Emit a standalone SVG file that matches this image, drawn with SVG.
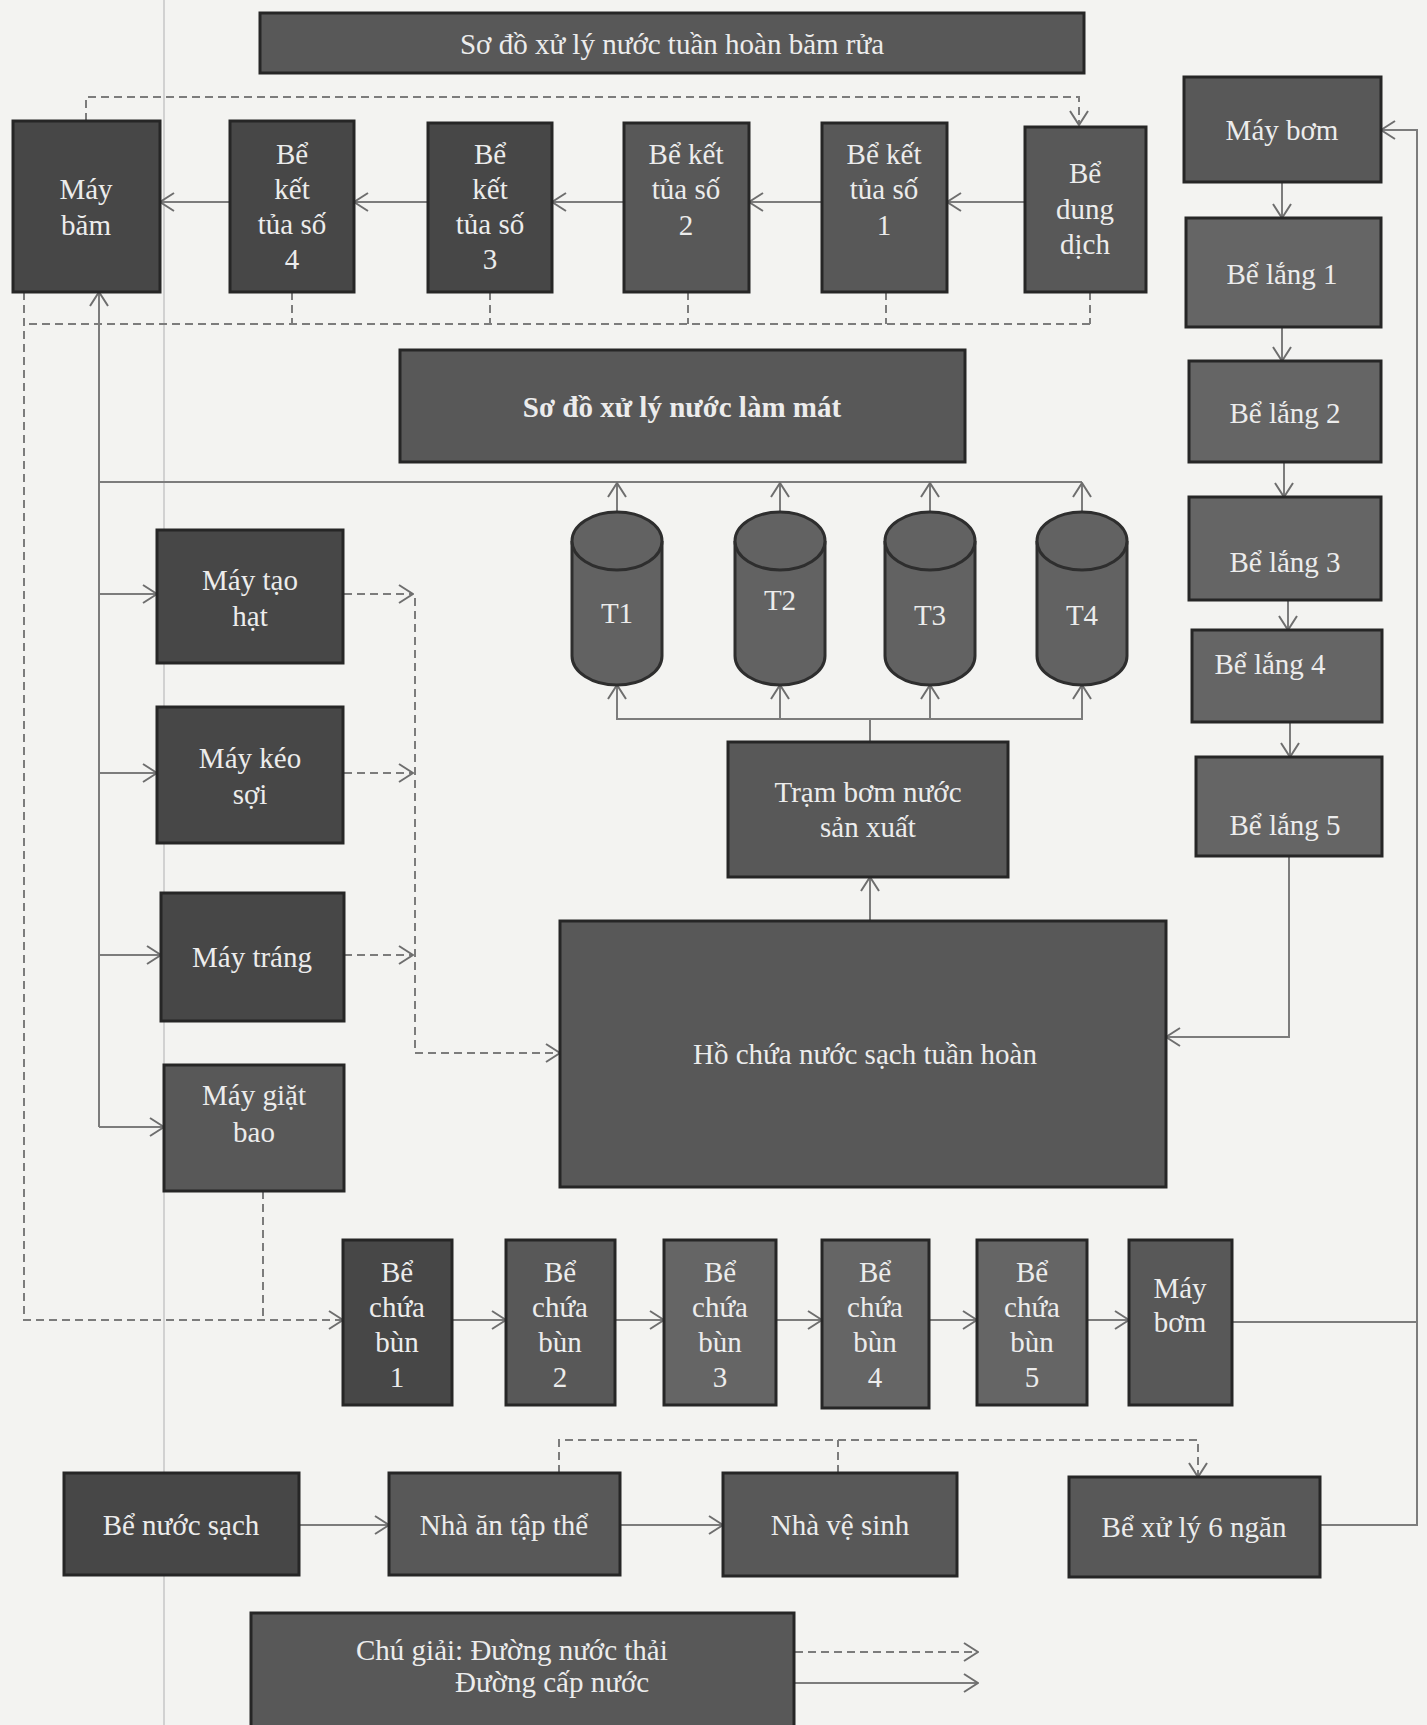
<svg xmlns="http://www.w3.org/2000/svg" width="1427" height="1725" viewBox="0 0 1427 1725">
<defs>
<style>
.bx{stroke:#262626;stroke-width:3}
.d{fill:#474747}
.m{fill:#585858}
.l{fill:#656565}
.t{font-family:"Liberation Serif","Times New Roman",serif;font-size:29px;fill:#ececec;text-anchor:middle;dominant-baseline:central}
.c{fill:none;stroke:#7c7c7c;stroke-width:2}
.dash{fill:none;stroke:#7c7c7c;stroke-width:2;stroke-dasharray:8 5}
.tank{fill:#626262;stroke:#2e2e2e;stroke-width:3}
</style>
<marker id="a" markerUnits="userSpaceOnUse" viewBox="0 0 16 20" markerWidth="16" markerHeight="20" refX="15" refY="10" orient="auto">
<path d="M1,1 L15,10 L1,19" fill="none" stroke="#6e6e6e" stroke-width="2"/>
</marker>
</defs>
<rect x="0" y="0" width="1427" height="1725" fill="#f3f3f1"/>
<line x1="164" y1="0" x2="164" y2="1725" stroke="#c6c6c6" stroke-width="1.5"/>

<g id="connectors">
<path class="c" d="M1025,202 H947" marker-end="url(#a)"/>
<path class="c" d="M822,202 H749" marker-end="url(#a)"/>
<path class="c" d="M624,202 H552" marker-end="url(#a)"/>
<path class="c" d="M428,202 H354" marker-end="url(#a)"/>
<path class="c" d="M230,202 H160" marker-end="url(#a)"/>
<path class="c" d="M1282,182 V218" marker-end="url(#a)"/>
<path class="c" d="M1282,327 V361" marker-end="url(#a)"/>
<path class="c" d="M1284,462 V497" marker-end="url(#a)"/>
<path class="c" d="M1288,600 V630" marker-end="url(#a)"/>
<path class="c" d="M1290,722 V757" marker-end="url(#a)"/>
<path class="c" d="M1289,856 V1037 H1166" marker-end="url(#a)"/>
<path class="c" d="M870,921 V877" marker-end="url(#a)"/>
<path class="c" d="M870,742 V719 H617 V685" marker-end="url(#a)"/>
<path class="c" d="M870,719 H1082 V685" marker-end="url(#a)"/>
<path class="c" d="M780,719 V685" marker-end="url(#a)"/>
<path class="c" d="M930,719 V685" marker-end="url(#a)"/>
<path class="c" d="M1082,482 H99"/>
<path class="c" d="M617,512 V483" marker-end="url(#a)"/>
<path class="c" d="M780,512 V483" marker-end="url(#a)"/>
<path class="c" d="M930,512 V483" marker-end="url(#a)"/>
<path class="c" d="M1082,512 V483" marker-end="url(#a)"/>
<path class="c" d="M99,1127 V292" marker-end="url(#a)"/>
<path class="c" d="M99,594 H157" marker-end="url(#a)"/>
<path class="c" d="M99,773 H157" marker-end="url(#a)"/>
<path class="c" d="M99,955 H161" marker-end="url(#a)"/>
<path class="c" d="M99,1127 H164" marker-end="url(#a)"/>
<path class="c" d="M452,1320 H506" marker-end="url(#a)"/>
<path class="c" d="M615,1320 H664" marker-end="url(#a)"/>
<path class="c" d="M776,1320 H822" marker-end="url(#a)"/>
<path class="c" d="M929,1320 H977" marker-end="url(#a)"/>
<path class="c" d="M1087,1320 H1129" marker-end="url(#a)"/>
<path class="c" d="M1232,1322 H1417"/>
<path class="c" d="M1320,1525 H1417 V130 H1381" marker-end="url(#a)"/>
<path class="c" d="M299,1525 H389" marker-end="url(#a)"/>
<path class="c" d="M620,1525 H723" marker-end="url(#a)"/>
<path class="dash" d="M86,121 V97 H1079 V125" marker-end="url(#a)"/>
<path class="dash" d="M292,292 V324 M490,292 V324 M688,292 V324 M886,292 V324 M1090,292 V324 M1090,324 H24"/>
<path class="dash" d="M24,292 V1320 H343" marker-end="url(#a)"/>
<path class="dash" d="M263,1191 V1320"/>
<path class="dash" d="M344,594 H413" marker-end="url(#a)"/>
<path class="dash" d="M344,773 H413" marker-end="url(#a)"/>
<path class="dash" d="M344,955 H413" marker-end="url(#a)"/>
<path class="dash" d="M415,598 V1053 H560" marker-end="url(#a)"/>
<path class="dash" d="M559,1473 V1440 H1198 V1477" marker-end="url(#a)"/>
<path class="dash" d="M838,1473 V1440"/>
<path class="dash" d="M795,1652 H978" marker-end="url(#a)"/>
<path class="c" d="M795,1683 H978" marker-end="url(#a)"/>
</g>

<g id="title1"><rect class="bx m" x="260" y="13" width="824" height="60"/><text class="t" x="672" y="44" font-size="30">Sơ đồ xử lý nước tuần hoàn băm rửa</text></g>
<g id="may-bam"><rect class="bx d" x="13" y="121" width="147" height="171"/><text class="t" x="86" y="189">Máy</text><text class="t" x="86" y="225">băm</text></g>
<g id="be-ket-tua-4"><rect class="bx d" x="230" y="121" width="124" height="171"/><text class="t" x="292" y="154">Bể</text><text class="t" x="292" y="189">kết</text><text class="t" x="292" y="224">tủa số</text><text class="t" x="292" y="259">4</text></g>
<g id="be-ket-tua-3"><rect class="bx d" x="428" y="123" width="124" height="169"/><text class="t" x="490" y="154">Bể</text><text class="t" x="490" y="189">kết</text><text class="t" x="490" y="224">tủa số</text><text class="t" x="490" y="259">3</text></g>
<g id="be-ket-tua-2"><rect class="bx m" x="624" y="123" width="125" height="169"/><text class="t" x="686" y="154">Bể kết</text><text class="t" x="686" y="189">tủa số</text><text class="t" x="686" y="225">2</text></g>
<g id="be-ket-tua-1"><rect class="bx m" x="822" y="123" width="125" height="169"/><text class="t" x="884" y="154">Bể kết</text><text class="t" x="884" y="189">tủa số</text><text class="t" x="884" y="225">1</text></g>
<g id="be-dung-dich"><rect class="bx m" x="1025" y="127" width="121" height="165"/><text class="t" x="1085" y="173">Bể</text><text class="t" x="1085" y="209">dung</text><text class="t" x="1085" y="244">dịch</text></g>

<g id="may-bom-1"><rect class="bx m" x="1184" y="77" width="197" height="105"/><text class="t" x="1282" y="130">Máy bơm</text></g>
<g id="be-lang-1"><rect class="bx l" x="1186" y="218" width="195" height="109"/><text class="t" x="1282" y="274">Bể lắng 1</text></g>
<g id="be-lang-2"><rect class="bx l" x="1189" y="361" width="192" height="101"/><text class="t" x="1285" y="413">Bể lắng 2</text></g>
<g id="be-lang-3"><rect class="bx l" x="1189" y="497" width="192" height="103"/><text class="t" x="1285" y="562">Bể lắng 3</text></g>
<g id="be-lang-4"><rect class="bx l" x="1192" y="630" width="190" height="92"/><text class="t" x="1270" y="664">Bể lắng 4</text></g>
<g id="be-lang-5"><rect class="bx l" x="1196" y="757" width="186" height="99"/><text class="t" x="1285" y="825">Bể lắng 5</text></g>

<g id="title2"><rect class="bx m" x="400" y="350" width="565" height="112"/><text class="t" x="682" y="407" font-weight="bold">Sơ đồ xử lý nước làm mát</text></g>

<g id="T1"><path class="tank" d="M572,541 V656 A45,29 0 0 0 662,656 V541"/><ellipse class="tank" cx="617" cy="541" rx="45" ry="29"/><text class="t" x="617" y="613">T1</text></g>
<g id="T2"><path class="tank" d="M735,541 V656 A45,29 0 0 0 825,656 V541"/><ellipse class="tank" cx="780" cy="541" rx="45" ry="29"/><text class="t" x="780" y="600">T2</text></g>
<g id="T3"><path class="tank" d="M885,541 V656 A45,29 0 0 0 975,656 V541"/><ellipse class="tank" cx="930" cy="541" rx="45" ry="29"/><text class="t" x="930" y="615">T3</text></g>
<g id="T4"><path class="tank" d="M1037,541 V656 A45,29 0 0 0 1127,656 V541"/><ellipse class="tank" cx="1082" cy="541" rx="45" ry="29"/><text class="t" x="1082" y="615">T4</text></g>

<g id="may-tao-hat"><rect class="bx d" x="157" y="530" width="186" height="133"/><text class="t" x="250" y="580">Máy tạo</text><text class="t" x="250" y="616">hạt</text></g>
<g id="may-keo-soi"><rect class="bx d" x="157" y="707" width="186" height="136"/><text class="t" x="250" y="758">Máy kéo</text><text class="t" x="250" y="794">sợi</text></g>
<g id="may-trang"><rect class="bx d" x="161" y="893" width="183" height="128"/><text class="t" x="252" y="957">Máy tráng</text></g>
<g id="may-giat-bao"><rect class="bx m" x="164" y="1065" width="180" height="126"/><text class="t" x="254" y="1095">Máy giặt</text><text class="t" x="254" y="1132">bao</text></g>

<g id="tram-bom"><rect class="bx m" x="728" y="742" width="280" height="135"/><text class="t" x="868" y="792">Trạm bơm nước</text><text class="t" x="868" y="827">sản xuất</text></g>
<g id="ho-chua"><rect class="bx m" x="560" y="921" width="606" height="266"/><text class="t" x="865" y="1054">Hồ chứa nước sạch tuần hoàn</text></g>

<g id="be-chua-bun-1"><rect class="bx d" x="343" y="1240" width="109" height="165"/><text class="t" x="397" y="1272">Bể</text><text class="t" x="397" y="1307">chứa</text><text class="t" x="397" y="1342">bùn</text><text class="t" x="397" y="1377">1</text></g>
<g id="be-chua-bun-2"><rect class="bx m" x="506" y="1240" width="109" height="165"/><text class="t" x="560" y="1272">Bể</text><text class="t" x="560" y="1307">chứa</text><text class="t" x="560" y="1342">bùn</text><text class="t" x="560" y="1377">2</text></g>
<g id="be-chua-bun-3"><rect class="bx l" x="664" y="1240" width="112" height="165"/><text class="t" x="720" y="1272">Bể</text><text class="t" x="720" y="1307">chứa</text><text class="t" x="720" y="1342">bùn</text><text class="t" x="720" y="1377">3</text></g>
<g id="be-chua-bun-4"><rect class="bx l" x="822" y="1240" width="107" height="168"/><text class="t" x="875" y="1272">Bể</text><text class="t" x="875" y="1307">chứa</text><text class="t" x="875" y="1342">bùn</text><text class="t" x="875" y="1377">4</text></g>
<g id="be-chua-bun-5"><rect class="bx l" x="977" y="1240" width="110" height="165"/><text class="t" x="1032" y="1272">Bể</text><text class="t" x="1032" y="1307">chứa</text><text class="t" x="1032" y="1342">bùn</text><text class="t" x="1032" y="1377">5</text></g>
<g id="may-bom-2"><rect class="bx m" x="1129" y="1240" width="103" height="165"/><text class="t" x="1180" y="1288">Máy</text><text class="t" x="1180" y="1322">bơm</text></g>

<g id="be-nuoc-sach"><rect class="bx d" x="64" y="1473" width="235" height="102"/><text class="t" x="181" y="1525">Bể nước sạch</text></g>
<g id="nha-an"><rect class="bx m" x="389" y="1473" width="231" height="102"/><text class="t" x="504" y="1525">Nhà ăn tập thể</text></g>
<g id="nha-ve-sinh"><rect class="bx m" x="723" y="1473" width="234" height="103"/><text class="t" x="840" y="1525">Nhà vệ sinh</text></g>
<g id="be-xu-ly"><rect class="bx m" x="1069" y="1477" width="251" height="100"/><text class="t" x="1194" y="1527">Bể xử lý 6 ngăn</text></g>

<g id="legend"><rect class="bx m" x="251" y="1613" width="543" height="125"/><text class="t" x="356" y="1650" style="text-anchor:start">Chú giải: Đường nước thải</text><text class="t" x="455" y="1682" style="text-anchor:start">Đường cấp nước</text></g>
</svg>
